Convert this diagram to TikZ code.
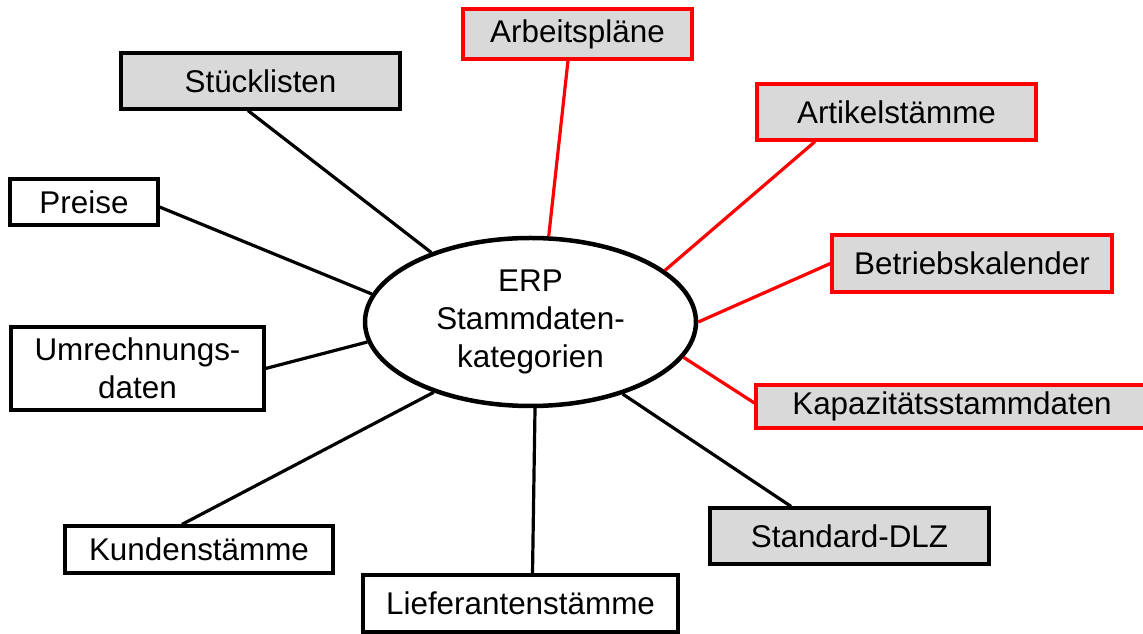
\documentclass[tikz,border=0pt]{standalone}
\usepackage{fontspec}
\setmainfont{Liberation Sans}
\usetikzlibrary{shapes.geometric}
\definecolor{boxgray}{HTML}{D9D9D9}
\definecolor{linkred}{HTML}{FF0000}
\tikzset{
  cat/.style={draw=black, line width=3.2pt, rectangle, inner sep=0pt, align=center,
    font=\fontsize{31.4}{37.7}\selectfont},
  filledcat/.style={cat, fill=boxgray},
  redcat/.style={cat, fill=boxgray, draw=linkred},
  hub/.style={draw=black, line width=4.5pt, ellipse, inner sep=0pt, fill=white, align=center,
    font=\fontsize{31.4}{37.7}\selectfont, minimum width=331pt, minimum height=168pt},
  link/.style={line width=3.2pt, draw=black},
  redlink/.style={line width=3.2pt, draw=linkred}
}
\begin{document}
\begin{tikzpicture}[x=1pt,y=1pt]
\useasboundingbox (0,0) rectangle (1143,634);

% central category node
\node[hub] (erp) at (530.5,312) {ERP\\Stammdaten-\\kategorien};

% master data categories
\node[filledcat, minimum width=279pt, minimum height=56pt] (stueck) at (260.5,553) {Stücklisten};
\node[redcat, minimum width=229pt, minimum height=50pt] (arbeit) at (577.5,600) {Arbeitspläne};
\node[redcat, minimum width=279pt, minimum height=56pt] (artikel) at (896.5,522) {Artikelstämme};
\node[cat, minimum width=148pt, minimum height=46pt] (preise) at (84,432) {Preise};
\node[redcat, minimum width=280pt, minimum height=57pt] (betrieb) at (972,370.5) {Betriebskalender};
\node[cat, minimum width=253pt, minimum height=83pt] (umrech) at (137.5,265.5) {Umrechnungs-\\daten};
\node[redcat, minimum width=392pt, minimum height=43pt] (kapaz) at (952,227.5) {Kapazitätsstammdaten};
\node[filledcat, minimum width=279pt, minimum height=56pt] (standard) at (849.5,98) {Standard-DLZ};
\node[cat, minimum width=268pt, minimum height=47pt] (kunden) at (199,84.5) {Kundenstämme};
\node[cat, minimum width=315pt, minimum height=57pt] (liefer) at (520.5,30.5) {Lieferantenstämme};

% connectors to the hub
\draw[link] ([xshift=-12.5pt]stueck.south) -- (erp.145.9);
\draw[redlink] ([xshift=-9.5pt]arbeit.south) -- (erp.78.9);
\draw[redlink] ([xshift=-81.5pt]artikel.south) -- (erp.21.3);
\draw[link] ([yshift=-5pt]preise.east) -- (erp.170);
\draw[redlink] (betrieb.west) -- (erp.0);
\draw[link] (umrech.east) -- (erp.187.7);
\draw[redlink] ([yshift=3.5pt]kapaz.west) -- (erp.-13.3);
\draw[link] ([xshift=-58.5pt]standard.north) -- (erp.-38.6);
\draw[link] ([xshift=-17pt]kunden.north) -- (erp.-144.6);
\draw[link] ([xshift=12pt]liefer.north) -- (erp.-87.6);
\end{tikzpicture}
\end{document}
